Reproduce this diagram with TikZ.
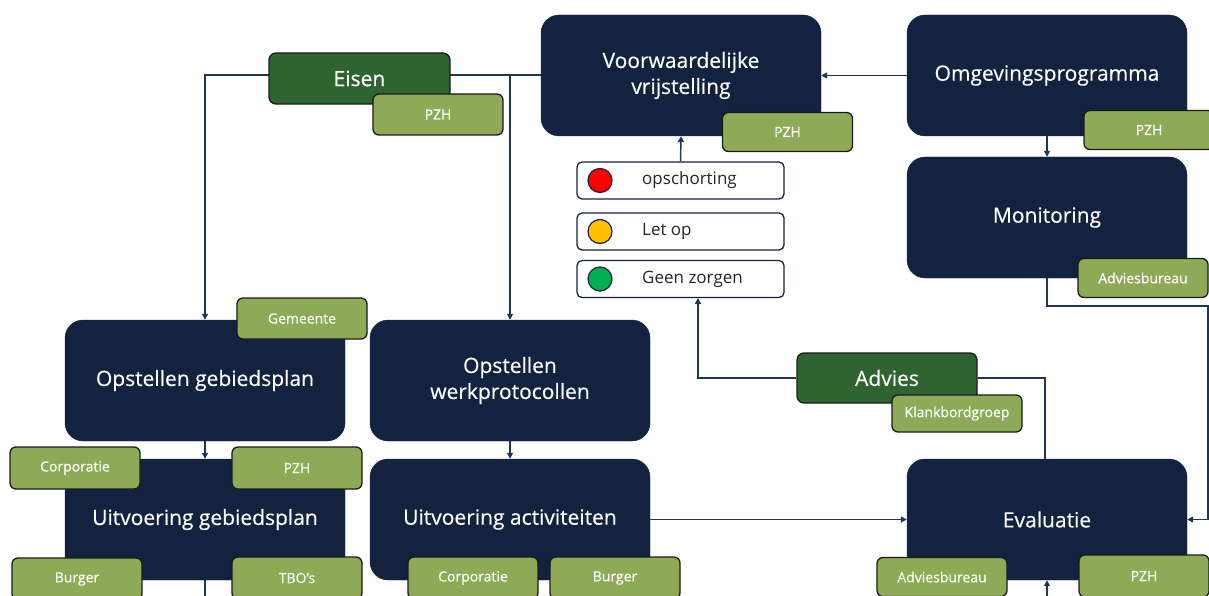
\documentclass[tikz,border=0pt]{standalone}
\usepackage{fontspec}
\setmainfont{Open Sans}
\newfontfamily\medfont[FakeBold=0.35]{Open Sans}
\usetikzlibrary{arrows.meta}
\definecolor{navy}{HTML}{13233F}
\definecolor{dgreen}{HTML}{2F6430}
\definecolor{lgreen}{HTML}{8FAA56}
\definecolor{linec}{HTML}{1F3556}
\definecolor{tagborder}{HTML}{1A1A1A}
\definecolor{cred}{HTML}{FF0000}
\definecolor{cyellow}{HTML}{FFC000}
\definecolor{cgreen}{HTML}{00B050}
\tikzset{
  mainbox/.style={fill=navy, draw=navy, rounded corners=18pt, minimum width=280pt, minimum height=121pt, text=white, font=\medfont\fontsize{21}{26}\selectfont, align=center, inner sep=0pt},
  greenbox/.style={fill=dgreen, draw=tagborder, line width=1.3pt, rounded corners=7pt, text=white, font=\medfont\fontsize{21}{26}\selectfont, inner sep=0pt},
  tagbox/.style={fill=lgreen, draw=tagborder, line width=1.3pt, rounded corners=6pt, minimum width=130pt, minimum height=39pt, text=white, font=\medfont\fontsize{14}{17}\selectfont, inner sep=0pt},
  statbox/.style={fill=white, draw=navy, line width=1.3pt, rounded corners=5pt, minimum width=207pt, minimum height=37pt, inner sep=0pt},
  statdot/.style={circle, draw=navy, line width=1.2pt, minimum size=24pt, inner sep=0pt},
  stattext/.style={anchor=west, text=black!85, font=\fontsize{17}{20}\selectfont, inner sep=0pt},
  conn/.style={draw=linec, line width=1.5pt},
  arr/.style={conn, -{Triangle[length=6pt,width=6pt]}}
}
\begin{document}
\begin{tikzpicture}[x=1pt,y=-1pt]
\useasboundingbox (0,0) rectangle (1209,596);
\clip (0,0) rectangle (1209,596);
% main boxes
\node[mainbox] (vv) at (681,75.5) {Voorwaardelijke\\vrijstelling};
\node[mainbox] (omg) at (1047,75.5) {\raisebox{-2pt}{Omgevingsprogramma}};
\node[mainbox] (mon) at (1047,217.5) {\raisebox{-2pt}{Monitoring}};
\node[mainbox] (ev) at (1047,519.5) {Evaluatie};
\node[mainbox] (ogp) at (205,380.5) {Opstellen gebiedsplan};
\node[mainbox] (ugp) at (205,519.5) {Uitvoering gebiedsplan};
\node[mainbox] (owp) at (510,380.5) {Opstellen\\werkprotocollen};
\node[mainbox] (uac) at (510,519.5) {Uitvoering activiteiten};
% status boxes
\node[statbox] (op) at (680.5,180.5) {};
\node[statbox] (lo) at (680.5,231.5) {};
\node[statbox] (gz) at (680.5,279) {};
\node[statdot, fill=cred] (d1) at (600,180.5) {};
\node[statdot, fill=cyellow] (d2) at (600,231.5) {};
\node[statdot, fill=cgreen] (d3) at (600,279) {};
\node[stattext] (t1) at (642,180.5) {opschorting};
\node[stattext] (t2) at (642,231.5) {Let op};
\node[stattext] (t3) at (642,279) {Geen zorgen};
% connectors
\coordinate (eisL) at (205,75);
\coordinate (eisR) at (510,75);
\draw[arr] (omg.west) -- (vv.east);
\draw[arr] (vv.west |- eisR) -- (eisL) -- (ogp.north);
\draw[arr] (eisR) -- (owp.north);
\draw[arr] (ogp.south) -- (ugp.north);
\draw[arr] (owp.south) -- (uac.north);
\coordinate (ugpout) at (205,600);
\draw[conn] (ugp.south) -- (ugpout);
\draw[arr] (omg.south) -- (mon.north);
\coordinate (m1) at (1047,306);
\coordinate (m2) at (1208,306);
\draw[arr] (mon.south) -- (m1) -- (m2) |- (ev.east);
\draw[arr] (uac.east) -- (ev.west);
\coordinate (evin) at (1047,600);
\draw[arr] (evin) -- (ev.south);
\draw[arr] (op.north) -- (vv.south);
% advies
\node[greenbox, minimum width=180pt, minimum height=50pt] (adv) at (887,378) {Advies};
\coordinate (a1) at (1045,378);
\coordinate (a2) at (698,378);
\coordinate (a3) at (698,298);
\draw[conn] (ev.north -| a1) -- (a1) -- (adv.east);
\draw[arr] (adv.west) -- (a2) -- (a3);
% eisen
\node[greenbox, minimum width=181pt, minimum height=51pt] (eis) at (359.5,78.5) {Eisen};
% tags
\node[tagbox] (t_vv) at (787.5,132) {PZH};
\node[tagbox] (t_omg) at (1149,130) {PZH};
\node[tagbox] (t_mon) at (1143,278) {Adviesbureau};
\node[tagbox, minimum height=41pt] (t_eis) at (438,114.5) {PZH};
\node[tagbox, minimum height=41pt] (t_gem) at (302,318.5) {Gemeente};
\node[tagbox, minimum height=42pt] (t_ugp1) at (75,468) {Corporatie};
\node[tagbox, minimum height=42pt] (t_ugp2) at (297,468) {PZH};
\node[tagbox, minimum height=42pt] (t_ugp3) at (77,579) {Burger};
\node[tagbox, minimum height=42pt] (t_ugp4) at (297,578) {TBO’s};
\node[tagbox, minimum height=42pt] (t_uac1) at (473,578) {Corporatie};
\node[tagbox, minimum height=42pt] (t_uac2) at (615,578) {Burger};
\node[tagbox, minimum height=37pt] (t_adv) at (957,413.5) {Klankbordgroep};
\node[tagbox, minimum height=39pt] (t_ev1) at (942,577) {Adviesbureau};
\node[tagbox, minimum height=42pt] (t_ev2) at (1144,576) {PZH};
\end{tikzpicture}
\end{document}
